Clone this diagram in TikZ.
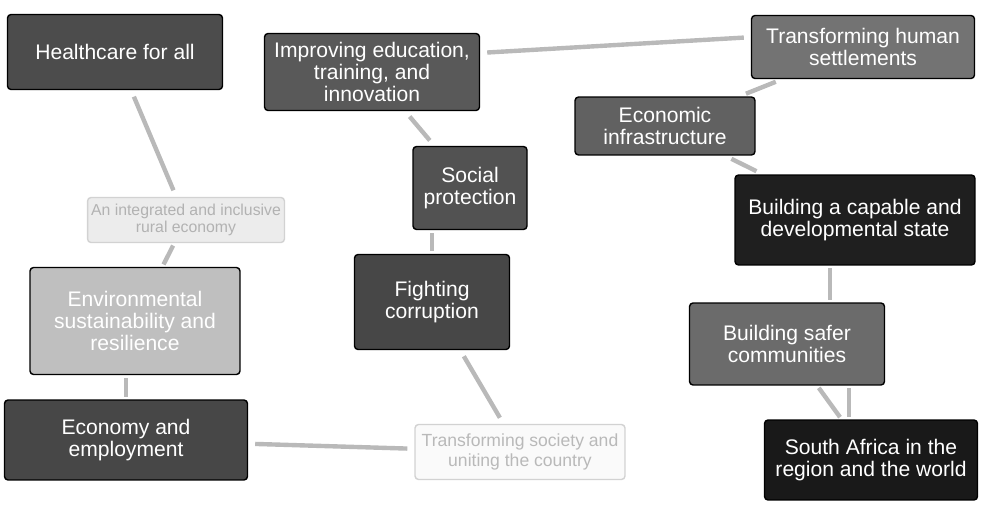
\documentclass[tikz,border=0pt]{standalone}
\usepackage{fontspec}
\setmainfont{Liberation Sans}
\usetikzlibrary{positioning}

\begin{document}
\begin{tikzpicture}[
    x=0.02cm, y=-0.02cm,
    goal/.style={rectangle, rounded corners=2pt, draw=black, line width=0.8pt,
        text=white, align=center, inner sep=2pt, font=\fontsize{12}{12.5}\selectfont},
    faint/.style={goal, draw=gray!35, font=\fontsize{9}{10}\selectfont},
    link/.style={draw=gray!55, line width=2.5pt, shorten >=4pt, shorten <=4pt},
    stub/.style={link, shorten >=1.5pt, shorten <=1.5pt}
]
    \useasboundingbox (0,0) rectangle (982,520);

    % Left column
    \node[goal, fill=black!70, minimum width=4.3cm, minimum height=1.5cm] (health) at (115,52) {Healthcare for all};
    \node[faint, fill=gray!15, text=gray!60, minimum width=3.44cm, minimum height=0.9cm] (rural) at (186,220) {An integrated and inclusive\\rural economy};
    \node[goal, fill=gray!50, minimum width=4.2cm, minimum height=2.14cm] (env) at (135,321) {Environmental\\sustainability and\\resilience};
    \node[goal, fill=black!72, minimum width=4.86cm, minimum height=1.6cm] (econ) at (126,440) {Economy and\\employment};

    % Middle column
    \node[goal, fill=black!65, minimum width=4.3cm, minimum height=1.54cm] (edu) at (372,72) {Improving education,\\training, and\\innovation};
    \node[goal, fill=black!68, minimum width=2.28cm, minimum height=1.66cm] (social) at (470,188) {Social\\protection};
    \node[goal, fill=black!72, minimum width=3.1cm, minimum height=1.9cm] (fight) at (432,302) {Fighting\\corruption};
    \node[faint, fill=gray!4, text=gray!55, font=\fontsize{10}{11}\selectfont, minimum width=4.2cm, minimum height=1.1cm] (society) at (520,452) {Transforming society and\\uniting the country};

    % Right column
    \node[goal, fill=black!55, minimum width=4.46cm, minimum height=1.26cm] (human) at (863,47) {Transforming human\\settlements};
    \node[goal, fill=black!62, minimum width=3.6cm, minimum height=1.16cm] (infra) at (665,126) {Economic\\infrastructure};
    \node[goal, fill=black!88, minimum width=4.8cm, minimum height=1.8cm] (state) at (855,220) {Building a capable and\\developmental state};
    \node[goal, fill=black!58, minimum width=3.9cm, minimum height=1.64cm] (safer) at (787,344) {Building safer\\communities};
    \node[goal, fill=black!90, minimum width=4.26cm, minimum height=1.6cm] (sa) at (871,460) {South Africa in the\\region and the world};

    % Links
    \draw[link] (health) -- (rural);
    \draw[stub] (rural) -- (env);
    \draw[stub] (econ.north) -- (econ.north |- env.south);
    \draw[link] (econ) -- (society);
    \draw[link] (society) -- (fight);
    \draw[stub] (fight.north) -- (fight.north |- social.south);
    \draw[link] (social) -- (edu);
    \draw[link] (edu.10) -- (human.175);
    \draw[link] (human) -- (infra);
    \draw[link] (infra) -- (state);
    \draw[stub] (safer.44) -- (safer.44 |- state.south);
    \draw[stub] (safer) -- (sa);
    \draw[stub] (safer.-34) -- (safer.-34 |- sa.north);
\end{tikzpicture}
\end{document}
